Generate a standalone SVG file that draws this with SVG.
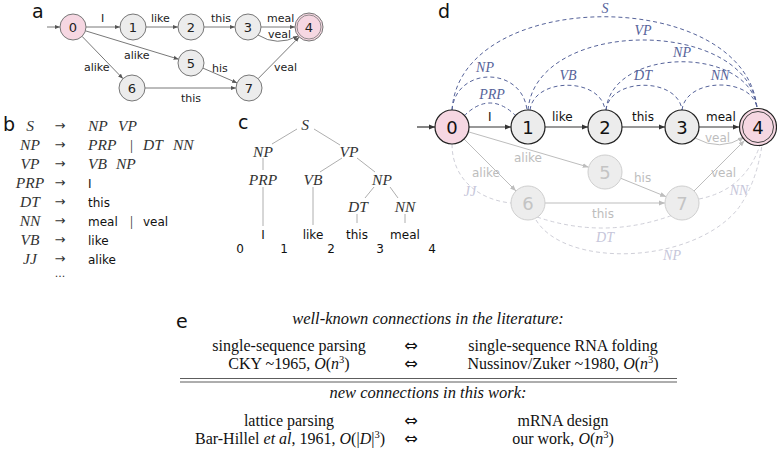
<svg xmlns="http://www.w3.org/2000/svg" width="777" height="464" viewBox="0 0 777 464">
<style>
.lbl{font-family:"DejaVu Sans",sans-serif;font-size:19px;fill:#111}
.sa{font-family:"DejaVu Sans",sans-serif;font-size:11px;fill:#222}
.sd{font-family:"DejaVu Sans",sans-serif;font-size:12px;fill:#111}
.sg{font-family:"DejaVu Sans",sans-serif;font-size:12px;fill:#bdbdbd}
.na{font-family:"DejaVu Sans",sans-serif;font-size:13px;fill:#222;text-anchor:middle}
.nd{font-family:"DejaVu Sans",sans-serif;font-size:18px;fill:#111;text-anchor:middle}
.ndg{font-family:"DejaVu Sans",sans-serif;font-size:18px;fill:#c4c4c4;text-anchor:middle}
.nt{font-family:"Liberation Serif",serif;font-style:italic;font-size:15.5px;fill:#333}
.tm{font-family:"DejaVu Sans",sans-serif;font-size:12px;fill:#111}
.bar{font-family:"Liberation Serif",serif;font-size:15px;fill:#333}
.bl{font-family:"Liberation Serif",serif;font-style:italic;font-size:14px;fill:#56639a;text-anchor:middle}
.gl{font-family:"Liberation Serif",serif;font-style:italic;font-size:14px;fill:#c6c6da;text-anchor:middle}
.e{font-family:"Liberation Serif",serif;font-size:16px;fill:#111}
.ei{font-family:"Liberation Serif",serif;font-size:16.5px;font-style:italic;fill:#111}
.arr{font-family:"DejaVu Sans",sans-serif;font-size:16px;fill:#111;text-anchor:middle}
.ea{fill:none;stroke:#555;stroke-width:0.8}
.ed{fill:none;stroke:#333;stroke-width:1.2}
.eg{fill:none;stroke:#bdbdbd;stroke-width:1}
.db{fill:none;stroke:#56639a;stroke-width:1;stroke-dasharray:4 3}
.dg{fill:none;stroke:#cfcfd8;stroke-width:1;stroke-dasharray:4 3}
.tl{fill:none;stroke:#999;stroke-width:0.8}
.pink{fill:#f6d7e2;stroke:#777;stroke-width:1}
.grey{fill:#ececec;stroke:#777;stroke-width:1}
.pinkd{fill:#f6d7e2;stroke:#222;stroke-width:1.2}
.greyd{fill:#ececec;stroke:#222;stroke-width:1.2}
.greyg{fill:#ededed;stroke:#cfcfcf;stroke-width:1}
</style>
<defs>
<marker id="ma" viewBox="0 0 10 10" refX="10" refY="5" markerWidth="5" markerHeight="5" orient="auto" markerUnits="userSpaceOnUse"><path d="M0,1 L10,5 L0,9 z" fill="#555"/></marker>
<marker id="md" viewBox="0 0 10 10" refX="10" refY="5" markerWidth="6" markerHeight="6" orient="auto" markerUnits="userSpaceOnUse"><path d="M0,1 L10,5 L0,9 z" fill="#333"/></marker>
<marker id="mg" viewBox="0 0 10 10" refX="10" refY="5" markerWidth="6" markerHeight="6" orient="auto" markerUnits="userSpaceOnUse"><path d="M0,1 L10,5 L0,9 z" fill="#bdbdbd"/></marker>
</defs>

<!-- panel labels -->
<text class="lbl" x="32" y="18">a</text>
<text class="lbl" x="3" y="131">b</text>
<text class="lbl" x="238" y="129">c</text>
<text class="lbl" x="438" y="18">d</text>
<text class="lbl" x="176" y="328">e</text>

<!-- ===== panel a ===== -->
<g id="a-connectors">
<path class="ea" d="M47,27 L60,27" marker-end="url(#ma)"/>
<path class="ea" d="M86,27 L120,27" marker-end="url(#ma)"/>
<path class="ea" d="M146,27 L178,27" marker-end="url(#ma)"/>
<path class="ea" d="M204,27 L235,27" marker-end="url(#ma)"/>
<path class="ea" d="M261,27 L295,27" marker-end="url(#ma)"/>
<path class="ea" d="M258,35 Q277,47 298,36" marker-end="url(#ma)"/>
<path class="ea" d="M85.4,30.8 L178.6,59.2" marker-end="url(#ma)"/>
<path class="ea" d="M82,36.3 L123,78.7" marker-end="url(#ma)"/>
<path class="ea" d="M202.9,68.1 L237.1,82.9" marker-end="url(#ma)"/>
<path class="ea" d="M145,88 L236,88" marker-end="url(#ma)"/>
<path class="ea" d="M258.1,78.7 L299.2,37" marker-end="url(#ma)"/>
<text class="sa" x="101" y="22">I</text>
<text class="sa" x="151" y="22">like</text>
<text class="sa" x="211" y="22">this</text>
<text class="sa" x="267" y="22">meal</text>
<text class="sa" x="268" y="38">veal</text>
<text class="sa" x="124" y="59">alike</text>
<text class="sa" x="84" y="71">alike</text>
<text class="sa" x="212" y="72">his</text>
<text class="sa" x="274" y="71">veal</text>
<text class="sa" x="181" y="102">this</text>
</g>
<g id="a-n0"><circle class="pink" cx="73" cy="27" r="13"/><text class="na" x="73" y="32">0</text></g>
<g id="a-n1"><circle class="grey" cx="133" cy="27" r="13"/><text class="na" x="133" y="32">1</text></g>
<g id="a-n2"><circle class="grey" cx="191" cy="27" r="13"/><text class="na" x="191" y="32">2</text></g>
<g id="a-n3"><circle class="grey" cx="248" cy="27" r="13"/><text class="na" x="248" y="32">3</text></g>
<g id="a-n4"><circle class="pink" cx="309" cy="27" r="14"/><circle fill="none" stroke="#777" stroke-width="0.8" cx="309" cy="27" r="12"/><text class="na" x="309" y="32">4</text></g>
<g id="a-n5"><circle class="grey" cx="191" cy="63" r="13"/><text class="na" x="191" y="68">5</text></g>
<g id="a-n6"><circle class="grey" cx="132" cy="88" r="13"/><text class="na" x="132" y="93">6</text></g>
<g id="a-n7"><circle class="grey" cx="249" cy="88" r="13"/><text class="na" x="249" y="93">7</text></g>

<!-- ===== panel b ===== -->
<g id="b-grammar">
<g class="nt" text-anchor="middle">
<text x="30" y="131">S</text>
<text x="30" y="150">NP</text>
<text x="30" y="169">VP</text>
<text x="30" y="188">PRP</text>
<text x="30" y="207">DT</text>
<text x="30" y="226">NN</text>
<text x="30" y="245">VB</text>
<text x="30" y="264">JJ</text>
</g>
<g font-family="DejaVu Sans,sans-serif" font-size="13" fill="#333" text-anchor="middle">
<text x="60" y="130">→</text><text x="60" y="149">→</text><text x="60" y="168">→</text><text x="60" y="187">→</text>
<text x="60" y="206">→</text><text x="60" y="225">→</text><text x="60" y="244">→</text><text x="60" y="263">→</text>
<text x="60" y="277" font-size="11">...</text>
</g>
<text class="nt" x="88" y="131">NP<tspan x="118">VP</tspan></text>
<text class="nt" x="88" y="150">PRP</text>
<text class="bar" x="130" y="150">|</text>
<text class="nt" x="143" y="150">DT<tspan x="173">NN</tspan></text>
<text class="nt" x="88" y="169">VB<tspan x="116">NP</tspan></text>
<text class="tm" x="88" y="188">I</text>
<text class="tm" x="88" y="207">this</text>
<text class="tm" x="88" y="226">meal</text>
<text class="bar" x="130" y="226">|</text>
<text class="tm" x="143" y="226">veal</text>
<text class="tm" x="88" y="245">like</text>
<text class="tm" x="88" y="264">alike</text>
</g>

<!-- ===== panel c ===== -->
<g id="c-tree">
<path class="tl" d="M297,129 L272,144 M314,129 L340,145 M263,158 L263,170 M263,187 L263,226 M342,158 L320,172 M313,187 L313,225 M357,158 L375,172 M374,187 L365,198 M390,187 L398,198 M357,214 L357,223 M405,214 L405,223"/>
<g class="nt" text-anchor="middle">
<text x="305" y="130">S</text>
<text x="263" y="157">NP</text>
<text x="349" y="157">VP</text>
<text x="263" y="185">PRP</text>
<text x="313" y="185">VB</text>
<text x="382" y="185">NP</text>
<text x="358" y="212">DT</text>
<text x="405" y="212">NN</text>
</g>
<g class="tm" text-anchor="middle">
<text x="263" y="239">I</text>
<text x="313" y="239">like</text>
<text x="357" y="239">this</text>
<text x="405" y="239">meal</text>
<text x="240" y="253">0</text>
<text x="284" y="253">1</text>
<text x="331" y="253">2</text>
<text x="380" y="253">3</text>
<text x="432" y="253">4</text>
</g>
</g>

<!-- ===== panel d ===== -->
<g id="d-connectors">
<!-- gray dashed -->
<path class="dg" d="M452,144 C452,180 480,200 511,203"/>
<path class="dg" d="M537,217 Q605,240 673,215"/>
<path class="dg" d="M699,199 Q745,190 760,145"/>
<path class="dg" d="M536,220 C565,268 690,265 737,210 Q756,185 762,145"/>
<text class="gl" x="470" y="196">JJ</text>
<text class="gl" x="605" y="242">DT</text>
<text class="gl" x="739" y="195">NN</text>
<text class="gl" x="672" y="260">NP</text>
<!-- gray solid -->
<path class="eg" d="M695,138 Q720,152 744,137" marker-end="url(#mg)"/>
<path class="eg" d="M468.3,131.8 L588.7,167.2" marker-end="url(#mg)"/>
<path class="eg" d="M464,139 L516,191" marker-end="url(#mg)"/>
<path class="eg" d="M620.8,178.3 L666.2,196.7" marker-end="url(#mg)"/>
<path class="eg" d="M545,203 L665,203" marker-end="url(#mg)"/>
<path class="eg" d="M694,191 L744.6,140.4" marker-end="url(#mg)"/>
<text class="sg" x="705" y="142">veal</text>
<text class="sg" x="514" y="162">alike</text>
<text class="sg" x="472" y="177">alike</text>
<text class="sg" x="634" y="182">his</text>
<text class="sg" x="592" y="218">this</text>
<text class="sg" x="711" y="177">veal</text>
<!-- blue dashed -->
<path class="db" d="M464,116 Q490,90 516,116"/>
<path class="db" d="M452,110 C456,66 522,66 527,110"/>
<path class="db" d="M452,110 C460,-14 745,-14 757,108"/>
<path class="db" d="M528,110 C536,17 748,17 757,108"/>
<path class="db" d="M530,110 C534,77 601,77 605,110"/>
<path class="db" d="M606,110 C610,77 678,77 682,110"/>
<path class="db" d="M682,110 C686,77 753,77 757,108"/>
<path class="db" d="M606,110 C612,46 750,46 757,108"/>
<text class="bl" x="492" y="99">PRP</text>
<text class="bl" x="485" y="72">NP</text>
<text class="bl" x="568" y="80">VB</text>
<text class="bl" x="643" y="80">DT</text>
<text class="bl" x="720" y="80">NN</text>
<text class="bl" x="682" y="57">NP</text>
<text class="bl" x="643" y="35">VP</text>
<text class="bl" x="605" y="13">S</text>
<!-- black edges -->
<path class="ed" d="M417,127 L435,127" marker-end="url(#md)"/>
<path class="ed" d="M469,127 L511,127" marker-end="url(#md)"/>
<path class="ed" d="M545,127 L588,127" marker-end="url(#md)"/>
<path class="ed" d="M622,127 L665,127" marker-end="url(#md)"/>
<path class="ed" d="M699,127 L739,127" marker-end="url(#md)"/>
<text class="sd" x="488" y="121">I</text>
<text class="sd" x="552" y="121">like</text>
<text class="sd" x="632" y="121">this</text>
<text class="sd" x="706" y="121">meal</text>
</g>
<g id="d-n0"><circle class="pinkd" cx="452" cy="127" r="17"/><text class="nd" x="452" y="134">0</text></g>
<g id="d-n1"><circle class="greyd" cx="528" cy="127" r="17"/><text class="nd" x="528" y="134">1</text></g>
<g id="d-n2"><circle class="greyd" cx="605" cy="127" r="17"/><text class="nd" x="605" y="134">2</text></g>
<g id="d-n3"><circle class="greyd" cx="682" cy="127" r="17"/><text class="nd" x="682" y="134">3</text></g>
<g id="d-n4"><circle class="pinkd" cx="758" cy="127" r="18.5"/><circle fill="none" stroke="#444" stroke-width="1" cx="758" cy="127" r="15.5"/><text class="nd" x="758" y="134">4</text></g>
<g id="d-n5"><circle class="greyg" cx="605" cy="172" r="17"/><text class="ndg" x="605" y="179">5</text></g>
<g id="d-n6"><circle class="greyg" cx="528" cy="203" r="17"/><text class="ndg" x="528" y="210">6</text></g>
<g id="d-n7"><circle class="greyg" cx="682" cy="203" r="17"/><text class="ndg" x="682" y="210">7</text></g>

<!-- ===== panel e ===== -->
<g id="e-table">
<text class="ei" x="428" y="324" text-anchor="middle">well-known connections in the literature:</text>
<text class="e" x="289" y="351" text-anchor="middle">single-sequence parsing</text>
<text class="arr" x="411" y="351">⇔</text>
<text class="e" x="563" y="351" text-anchor="middle">single-sequence RNA folding</text>
<text class="e" x="289" y="369" text-anchor="middle">CKY ~1965, <tspan font-style="italic">O</tspan>(<tspan font-style="italic">n</tspan><tspan font-size="10.5" dy="-6">3</tspan><tspan dy="6">)</tspan></text>
<text class="arr" x="411" y="369">⇔</text>
<text class="e" x="563" y="369" text-anchor="middle">Nussinov/Zuker ~1980, <tspan font-style="italic">O</tspan>(<tspan font-style="italic">n</tspan><tspan font-size="10.5" dy="-6">3</tspan><tspan dy="6">)</tspan></text>
<path d="M180,378.5 L677,378.5 M180,382 L677,382" stroke="#333" stroke-width="0.8" fill="none"/>
<text class="ei" x="428" y="398" text-anchor="middle">new connections in this work:</text>
<text class="e" x="289" y="426" text-anchor="middle">lattice parsing</text>
<text class="arr" x="411" y="426">⇔</text>
<text class="e" x="563" y="426" text-anchor="middle">mRNA design</text>
<text class="e" x="290" y="444" text-anchor="middle">Bar-Hillel <tspan font-style="italic">et al</tspan>, 1961, <tspan font-style="italic">O</tspan>(|<tspan font-style="italic">D</tspan>|<tspan font-size="10.5" dy="-6">3</tspan><tspan dy="6">)</tspan></text>
<text class="arr" x="411" y="444">⇔</text>
<text class="e" x="563" y="444" text-anchor="middle">our work, <tspan font-style="italic">O</tspan>(<tspan font-style="italic">n</tspan><tspan font-size="10.5" dy="-6">3</tspan><tspan dy="6">)</tspan></text>
</g>
</svg>
